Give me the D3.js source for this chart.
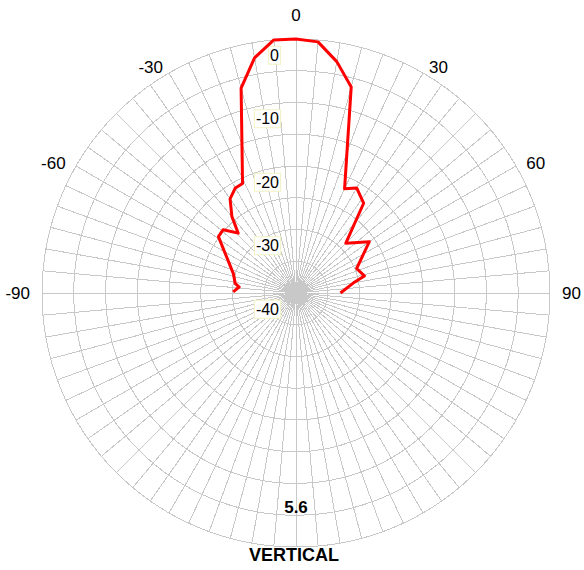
<!DOCTYPE html>
<html>
<head>
<meta charset="utf-8">
<script src="https://cdn.jsdelivr.net/npm/d3@7"></script>
<style>
  body { margin: 0; background: #fff; }
  text { font-family: "Liberation Sans", Arial, sans-serif; }
</style>
</head>
<body>
<div id="polar"></div>
<script>
// pattern: angle (deg, 0 = up, clockwise) and level (dB)
const patternAngles = [-89, -84, -81, -73, -54, -49, -44, -40, -35, -30, -26, -15, -10, -5, 0,
                       5, 10, 15, 25, 30, 37, 45, 55, 68, 76, 80, 90];
const patternDb = [-30.1, -31.0, -30.3, -29.7, -24.9, -24.8, -26.9, -24.3, -21.9, -20.9, -20.8, -6.6, -2.4, 0, 0,
                   -0.3, -3.0, -6.4, -21.9, -20.9, -22.3, -28.9, -25.9, -29.7, -28.9, -30.8, -33];
const angleLabels = [-90, -60, -30, 0, 30, 60, 90];
const dbLabels = [0, -10, -20, -30, -40];
const ringDb = [0, -5, -10, -15, -20, -25, -30, -35];
const spokeAngles = d3.range(0, 360, 5);
const gain = "5.6";
const title = "VERTICAL";

const width = 584, height = 570;
const cx = 296, cy = 293, R = 254;

const svg = d3.select("#polar")
  .append("svg")
  .attr("width", width)
  .attr("height", height);

const g = svg.append("g")
  .attr("transform", `translate(${cx},${cy})`);

// radius scale, -40 dB at the centre
const r = d3.scaleLinear()
  .domain([-40, 0])
  .range([0, R]);

const rad = d => d * Math.PI / 180;

// spokes
g.selectAll("line.spoke")
  .data(spokeAngles)
  .join("line")
    .attr("class", "spoke")
    .attr("x1", 0)
    .attr("y1", 0)
    .attr("x2", d => R * Math.sin(rad(d)))
    .attr("y2", d => -R * Math.cos(rad(d)))
    .attr("stroke", "#c8c8c8")
    .attr("stroke-width", 1)
    .attr("shape-rendering", "crispEdges");

// rings
g.selectAll("circle.ring")
  .data(ringDb)
  .join("circle")
    .attr("class", "ring")
    .attr("r", d => r(d))
    .attr("fill", "none")
    .attr("stroke", "#c8c8c8")
    .attr("stroke-width", 1)
    .attr("shape-rendering", "crispEdges");

// dB labels with their little boxes
const dbg = g.selectAll("g.db")
  .data(dbLabels)
  .join("g")
    .attr("class", "db")
    .attr("transform", d => `translate(-17,${-r(d) + 16})`);
dbg.append("text")
  .attr("text-anchor", "end")
  .attr("dy", "0.36em")
  .attr("font-size", 16)
  .attr("fill", "#000")
  .text(d => d);
dbg.each(function() {
  const t = d3.select(this).select("text");
  const b = t.node().getBBox();
  d3.select(this).insert("rect", "text")
    .attr("x", b.x - 1.5)
    .attr("y", b.y - 0.5)
    .attr("width", b.width + 3)
    .attr("height", b.height + 1)
    .attr("fill", "#fff")
    .attr("stroke", "#f2f2c4")
    .attr("stroke-width", 1);
});

// pattern
const pts = patternAngles.map((a, i) => [rad(a), r(patternDb[i])]);
g.append("path")
  .datum(pts)
  .attr("d", d3.lineRadial())
  .attr("fill", "none")
  .attr("stroke", "#ff0000")
  .attr("stroke-width", 3)
  .attr("stroke-linejoin", "round");

// angle labels: side ones hang off the ring, the top one sits above it
g.selectAll("text.ang")
  .data(angleLabels)
  .join("text")
    .attr("class", "ang")
    .attr("x", d => 266 * Math.sin(rad(d)))
    .attr("y", d => d === 0 ? -278 : -261 * Math.cos(rad(d)))
    .attr("dy", "0.36em")
    .attr("text-anchor", d => d === 0 ? "middle" : (d > 0 ? "start" : "end"))
    .attr("font-size", 17)
    .attr("fill", "#000")
    .text(d => d);

svg.append("text")
  .attr("x", cx)
  .attr("y", 513)
  .attr("text-anchor", "middle")
  .attr("font-size", 17)
  .attr("font-weight", "bold")
  .text(gain);

svg.append("text")
  .attr("x", 294)
  .attr("y", 561)
  .attr("text-anchor", "middle")
  .attr("font-size", 18)
  .attr("font-weight", "bold")
  .text(title);
</script>
</body>
</html>
